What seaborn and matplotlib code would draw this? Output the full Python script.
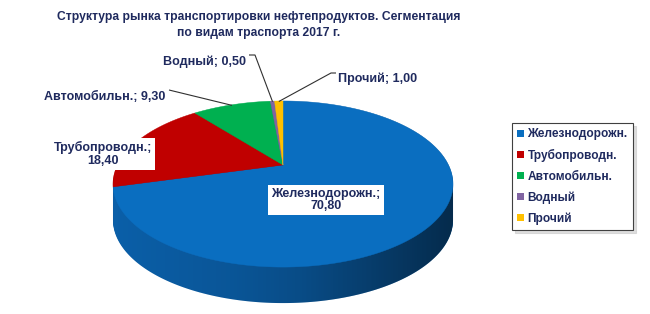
import numpy as np
import matplotlib
matplotlib.use('Agg')
import matplotlib.pyplot as plt
import seaborn as sns
from matplotlib.transforms import Transform
from matplotlib.path import Path
from matplotlib.patches import PathPatch, Patch

# ---------------- data ----------------
categories = ['Железнодорожн.', 'Трубопроводн.', 'Автомобильн.', 'Водный', 'Прочий']
values = [70.80, 18.40, 9.30, 0.50, 1.00]
value_labels = ['70,80', '18,40', '9,30', '0,50', '1,00']
colors = ['#0A6EC0', '#C00000', '#00B050', '#8064A2', '#FFC000']
side_colors = ['#0B5FA8', '#8A0000', '#007A3A', '#5C4878', '#C09000']
title = 'Структура рынка транспортировки нефтепродуктов. Сегментация\nпо видам траспорта 2017 г.'

TXT = '#1F2A5E'

sns.set_theme(style='white')
plt.rcParams['font.family'] = ['Liberation Sans', 'DejaVu Sans']


class Perspective(Transform):
    """Projective view of a tilted disc (unit pie coords -> pixel data coords)."""
    input_dims = 2
    output_dims = 2
    is_separable = False
    has_inverse = False

    def __init__(self, cx, cy, a, b, c, dy=0.0):
        super().__init__()
        self.cx, self.cy, self.a, self.b, self.c, self.dy = cx, cy, a, b, c, dy

    def transform_non_affine(self, values):
        values = np.asarray(values, dtype=float).reshape(-1, 2)
        u, v = values[:, 0], values[:, 1]
        w = 1.0 + self.c * v
        return np.column_stack([self.cx + self.a * u / w,
                                self.cy + self.dy - self.b * v / w])

    def transform_path_non_affine(self, path):
        pts = []
        for seg, code in path.iter_bezier():
            t = np.linspace(0, 1, 40)
            pts.append(seg(t))
        verts = np.concatenate(pts)
        return Path(self.transform_non_affine(verts))


W, H = 650, 314
fig = plt.figure(figsize=(W / 100, H / 100), dpi=100)
fig.patch.set_facecolor('white')
ax = fig.add_axes([0, 0, 1, 1])

CX, CY, A, B, C = 283, 165, 165.5, 78.7, 0.229
DEPTH = 36

# ---- side of the pie (stacked layers) ----
for d in np.arange(DEPTH, 0, -1):
    layer, _ = ax.pie(values, colors=side_colors, startangle=90, counterclock=False,
                      wedgeprops=dict(linewidth=0))
    for w in layer:
        w.set_transform(Perspective(CX, CY, A, B, C, dy=d) + ax.transData)
        w.set_zorder(1)

# shading overlay on the side
th = np.linspace(0, 2 * np.pi, 721)
P = Perspective(CX, CY, A, B, C)
ring = P.transform_non_affine(np.column_stack([np.cos(th), np.sin(th)]))
i_r = int(np.argmax(ring[:, 0]))
ring = np.roll(ring[:-1], -i_r, axis=0)
i_l = int(np.argmin(ring[:, 0]))
upper = ring[:i_l + 1]
lower = ring[i_l:].copy()
lower[:, 1] += DEPTH
hull = np.vstack([upper, lower, upper[:1]])
clip = PathPatch(Path(hull), transform=ax.transData, facecolor='none', edgecolor='none')
ax.add_patch(clip)
xmin, xmax = hull[:, 0].min(), hull[:, 0].max()
xs = np.linspace(0, 1, 300)
alpha = np.interp(xs, [0, 0.35, 0.55, 1.0], [0.0, 0.10, 0.20, 0.55])
grad = np.zeros((1, 300, 4))
grad[0, :, 3] = alpha
im = ax.imshow(grad, extent=(xmin, xmax, hull[:, 1].max(), hull[:, 1].min()),
               aspect='auto', zorder=2, interpolation='bilinear')
im.set_clip_path(clip)

# ---- top face ----
wedges, _ = ax.pie(values, colors=colors, startangle=90, counterclock=False,
                   wedgeprops=dict(linewidth=0.3))
for w, col in zip(wedges, colors):
    w.set_edgecolor(col)
    w.set_transform(P + ax.transData)
    w.set_zorder(3)

ax.set_aspect('auto')
ax.set_xlim(0, W)
ax.set_ylim(H, 0)
ax.axis('off')

# ---- labels ----
fracs = np.array(values) / np.sum(values)
mids = (np.cumsum(fracs) - fracs / 2) * 2 * np.pi  # clockwise from top
edge_pts = P.transform_non_affine(np.column_stack([np.sin(mids) * 0.99, np.cos(mids) * 0.99]))

lab_kw = dict(color=TXT, fontsize=9, fontweight='bold', zorder=6)
box = dict(boxstyle='square,pad=0.25', fc='white', ec='none')

ax.text(326, 200, f'{categories[0]};\n{value_labels[0]}', ha='center', va='center',
        linespacing=1.05, bbox=box, **lab_kw)
ax.text(103, 154, f'{categories[1]};\n{value_labels[1]}', ha='center', va='center',
        linespacing=1.05, bbox=box, **lab_kw)
ax.text(165, 97, f'{categories[2]}; {value_labels[2]}', ha='right', va='center', **lab_kw)
ax.text(246, 62, f'{categories[3]}; {value_labels[3]}', ha='right', va='center', **lab_kw)
ax.text(338, 79, f'{categories[4]}; {value_labels[4]}', ha='left', va='center', **lab_kw)

lk = dict(color='#303030', lw=0.8, zorder=5, solid_capstyle='butt')
ax.plot([169, edge_pts[2, 0]], [90, edge_pts[2, 1]], **lk)
ax.plot([249, 255, edge_pts[3, 0]], [55, 55, edge_pts[3, 1]], **lk)
ax.plot([336, 331, edge_pts[4, 0]], [73, 73, edge_pts[4, 1]], **lk)

# ---- title ----
ax.text(259, 25, title, ha='center', va='center', color=TXT, fontsize=8.7,
        fontweight='bold', linespacing=1.45, zorder=6)

# ---- legend ----
handles = [Patch(facecolor=c, edgecolor='none') for c in colors]
leg = fig.legend(handles, categories, loc='upper left',
                 bbox_to_anchor=(512 / W, 1 - 123 / H), borderaxespad=0,
                 frameon=True, fancybox=False, handlelength=0.55, handleheight=0.55,
                 handletextpad=0.3, labelspacing=0.72, borderpad=0.45,
                 prop={'weight': 'bold', 'size': 8.6}, labelcolor=TXT,
                 shadow={'ox': 2, 'oy': -2, 'color': '#c8c8c8', 'alpha': 0.6})
leg.get_frame().set_edgecolor('#404040')
leg.get_frame().set_linewidth(0.8)

fig.savefig('out.png', dpi=100, facecolor='white')
